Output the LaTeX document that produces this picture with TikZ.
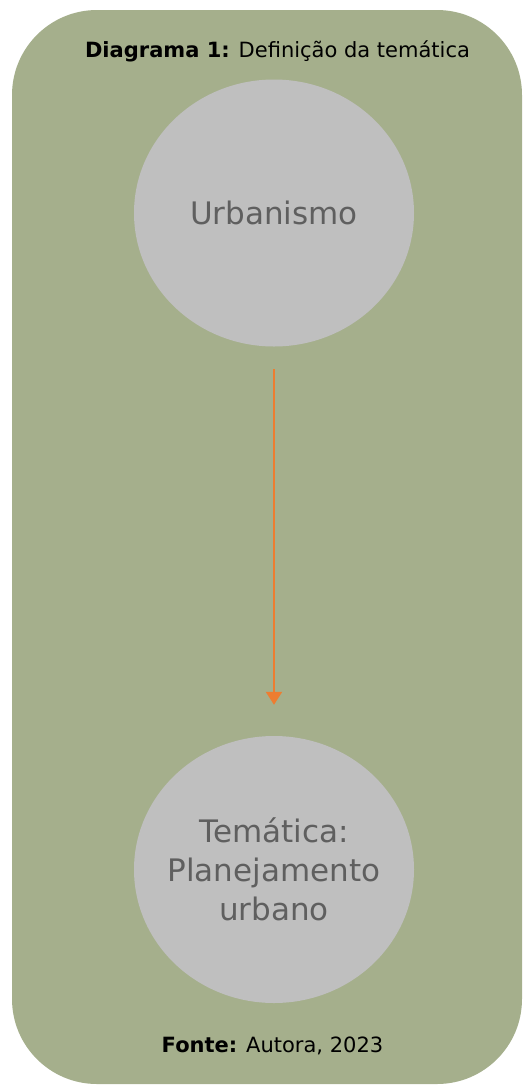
\documentclass[tikz,border=0pt]{standalone}
\usepackage{fontspec}
\setmainfont{DejaVu Sans}
\usetikzlibrary{arrows.meta,shapes.geometric}
\definecolor{bggreen}{HTML}{A5AF8C}
\definecolor{circgray}{HTML}{BFBFBF}
\definecolor{txtgray}{HTML}{5F5F5F}
\definecolor{arrorange}{HTML}{ED7D31}
\begin{document}
\begin{tikzpicture}[x=1pt,y=-1pt,
  bubble/.style={ellipse, fill=circgray, minimum width=280pt, minimum height=267pt, inner sep=0pt},
  bubbletext/.style={text=txtgray, align=center, inner sep=0pt, font=\fontsize{31}{39}\selectfont},
  caption/.style={font=\fontsize{21}{25}\selectfont, text=black, inner sep=0pt},
  flow/.style={arrorange, line width=2pt, -{Triangle[length=13pt,width=16pt]}}]
\useasboundingbox (0,0) rectangle (526,1085);
\fill[bggreen, rounded corners=85pt] (12,10) rectangle (522,1084);
\node[caption] (title) at (277.5,51) {\textbf{Diagrama 1:} Definição da temática};
\node[bubble, label={[bubbletext]center:Urbanismo}] (urb) at (274,213) {};
\node[bubble, label={[bubbletext]center:Temática:\\Planejamento\\urbano}] (tem) at (274,869.5) {};
\node[caption] (src) at (272.5,1046) {\textbf{Fonte:} Autora, 2023};
\draw[flow, shorten <=22.5pt, shorten >=31pt] (urb) -- (tem);
\end{tikzpicture}
\end{document}
